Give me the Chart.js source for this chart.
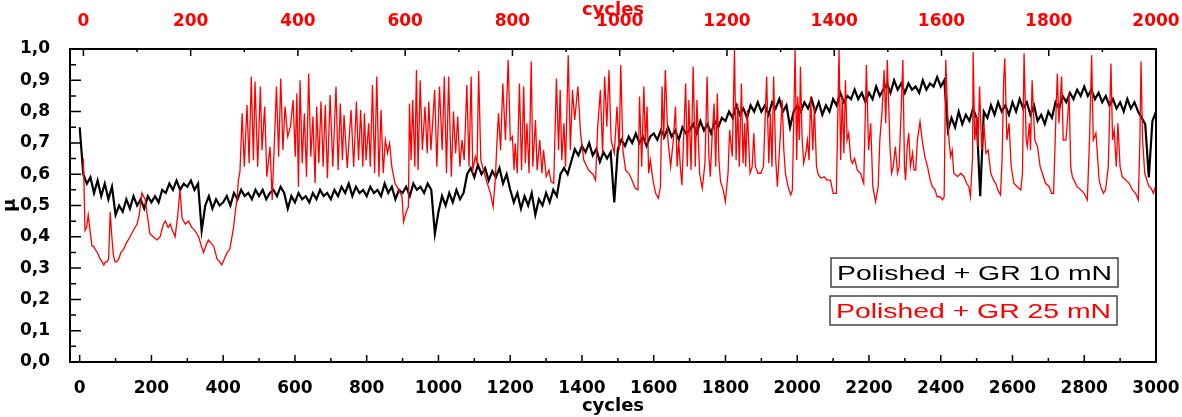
<!DOCTYPE html>
<html>
<head>
<meta charset="utf-8">
<script src="https://cdn.jsdelivr.net/npm/chart.js@4.4.0/dist/chart.umd.min.js"></script>
<style>
  html, body { margin: 0; padding: 0; background: #fff; }
</style>
</head>
<body>
<canvas id="linechart__mu__cycles" width="1182" height="417"></canvas>
<script>
// tick labels
const bottomTicks = [0, 200, 400, 600, 800, 1000, 1200, 1400, 1600, 1800, 2000, 2200, 2400, 2600, 2800, 3000];
const topTicks = [0, 200, 400, 600, 800, 1000, 1200, 1400, 1600, 1800, 2000];
const yTicks = [0, 0.1, 0.2, 0.3, 0.4, 0.5, 0.6, 0.7, 0.8, 0.9, 1.0];

// Polished + GR 10 mN, bottom axis, one value every 10 cycles (0..3000)
const blackStep = 10;
const blackMu = [
  0.75,0.60,0.57,0.59,0.54,0.58,0.53,0.57,0.52,0.56,
  0.47,0.50,0.48,0.52,0.49,0.53,0.50,0.52,0.49,0.53,
  0.51,0.53,0.51,0.55,0.54,0.57,0.55,0.58,0.55,0.57,
  0.56,0.58,0.55,0.57,0.42,0.50,0.53,0.49,0.52,0.50,
  0.51,0.53,0.50,0.54,0.52,0.55,0.53,0.54,0.52,0.55,
  0.53,0.55,0.52,0.54,0.55,0.53,0.56,0.54,0.49,0.53,
  0.51,0.54,0.52,0.53,0.51,0.54,0.52,0.55,0.53,0.54,
  0.52,0.55,0.53,0.56,0.54,0.57,0.53,0.56,0.54,0.55,
  0.53,0.56,0.54,0.55,0.53,0.57,0.54,0.56,0.52,0.55,
  0.54,0.56,0.53,0.57,0.55,0.56,0.54,0.57,0.55,0.41,
  0.48,0.53,0.50,0.54,0.51,0.55,0.52,0.54,0.60,0.62,
  0.59,0.63,0.60,0.62,0.58,0.61,0.59,0.62,0.57,0.60,
  0.55,0.51,0.54,0.49,0.53,0.50,0.54,0.47,0.52,0.50,
  0.54,0.51,0.55,0.53,0.60,0.62,0.60,0.64,0.68,0.66,
  0.69,0.67,0.70,0.66,0.68,0.64,0.67,0.65,0.67,0.51,
  0.68,0.71,0.69,0.72,0.70,0.73,0.70,0.72,0.69,0.72,
  0.73,0.71,0.74,0.72,0.75,0.72,0.74,0.71,0.75,0.73,
  0.74,0.76,0.73,0.77,0.74,0.76,0.73,0.77,0.75,0.78,
  0.77,0.80,0.78,0.82,0.79,0.81,0.78,0.82,0.80,0.83,
  0.80,0.82,0.79,0.83,0.81,0.84,0.80,0.82,0.75,0.80,
  0.82,0.80,0.83,0.81,0.84,0.80,0.83,0.79,0.82,0.80,
  0.84,0.82,0.86,0.83,0.85,0.84,0.87,0.84,0.86,0.83,
  0.86,0.84,0.88,0.85,0.87,0.89,0.86,0.90,0.87,0.89,
  0.86,0.89,0.87,0.88,0.86,0.90,0.87,0.89,0.88,0.91,
  0.88,0.90,0.74,0.78,0.75,0.80,0.76,0.79,0.77,0.81,
  0.78,0.53,0.80,0.78,0.82,0.79,0.83,0.80,0.82,0.79,
  0.83,0.80,0.84,0.81,0.83,0.79,0.82,0.77,0.79,0.76,
  0.80,0.78,0.83,0.81,0.85,0.83,0.86,0.84,0.87,0.85,
  0.88,0.85,0.87,0.84,0.86,0.83,0.85,0.82,0.84,0.81,
  0.83,0.80,0.84,0.81,0.83,0.80,0.78,0.76,0.59,0.77,
  0.80
];

// Polished + GR 25 mN, top axis
const redCycles = [
  0,3,6,9,13,16,19,22,26,31,35,38,41,44,47,50,53,56,59,62,66,70,75,80,87,93,100,104,109,112,115,119,124,130,137,143,149,153,158,162,166,171,176,180,184,190,196,202,208,215,220,224,228,233,238,243,246,249,254,258,263,268,273,277,280,284,287,289,292,
  296,300,305,309,313,317,320,325,330,333,338,342,348,352,360,364,368,372,376,381,386,391,395,398,401,404,408,412,416,420,424,428,432,435,439,443,447,451,455,460,465,471,475,479,483,486,492,
  499,504,509,513,517,521,524,527,532,535,539,543,547,551,555,559,563,567,571,575,581,588,594,597,602,606,608,611,614,618,621,624,628,632,637,641,644,648,655,659,664,669,673,677,681,686,690,694,698,702,706,710,715,719,723,726,731,734,737,741,746,753,759,764,768,771,774,778,782,787,792,796,800,803,805,809,813,817,821,824,827,831,835,838,843,846,851,855,858,863,868,872,877,882,886,889,892,896,899,904,908,912,916,922,927,933,942,950,955,959,964,968,972,976,980,984,
  990,995,999,1002,1006,1011,1017,1023,1029,1034,1037,1041,1045,1048,1051,1054,1057,1062,1067,1072,1076,1079,1082,1085,1090,1095,1100,1104,1107,1110,1113,1116,1123,1126,1129,1133,1137,1141,1144,1149,1154,1159,1163,1166,1169,1172,1176,1179,1182,1185,1188,1193,1197,1202,1205,1210,1214,1217,1220,1223,1227,1230,1233,1235,1238,1243,1247,1250,1253,1258,1263,1268,1274,1278,1281,1284,1287,1291,1294,1299,1303,1306,1309,1314,1319,1322,1327,1330,1332,1335,1337,1340,1343,1347,1350,1353,1356,1360,1363,1367,1370,1375,1381,1387,1393,1398,1404,1409,1412,1415,1418,1421,1424,1427,1431,1434,1438,1443,1449,1455,1460,1464,1468,1472,1477,1482,1485,1489,
  1493,1496,1499,1504,1507,1510,1514,1518,1521,1525,1528,1531,1533,1536,1539,1542,1546,1549,1552,1555,1560,1564,1569,1574,1579,1583,1588,1592,1597,1602,1605,1608,1611,1614,1617,1620,1623,1630,1636,1642,1647,1651,1654,1658,1659,1662,1666,1668,1671,1675,1679,1683,1687,1692,1697,1701,1705,1710,1713,1716,1718,1722,1726,1730,1735,1741,1748,1751,1754,1758,1760,1764,1766,1769,1774,1779,1784,1788,1794,1801,1805,1809,1812,1816,1819,1824,1827,1832,1835,1838,1841,1844,1847,1853,1860,1866,1872,1876,1880,1883,1888,1891,1894,1897,1902,1906,1911,1916,1919,1922,1926,1929,1933,1937,1944,1950,1956,1962,1967,1970,1972,1975,1979,1983,1987,1991,1995,2000
];
const redMu = [
  0.65,0.42,0.43,0.47,0.41,0.37,0.37,0.36,0.35,0.33,0.32,0.31,0.32,0.32,0.33,0.48,0.40,0.34,0.32,0.32,0.33,0.35,0.36,0.38,0.40,0.42,0.44,0.47,0.54,0.53,0.52,0.47,0.41,0.40,0.39,0.40,0.44,0.45,0.43,0.44,0.42,0.40,0.47,0.55,0.46,0.44,0.45,0.43,0.42,0.40,0.37,0.35,0.37,0.39,0.38,0.37,0.35,0.33,0.32,0.31,0.33,0.35,0.36,0.40,0.43,0.49,0.53,0.58,0.61,
  0.795,0.624,0.821,0.635,0.912,0.645,0.896,0.624,0.88,0.677,0.816,0.592,0.688,0.518,0.88,0.656,0.906,0.677,0.816,0.72,0.752,0.837,0.656,0.858,0.56,0.90,0.635,0.795,0.592,0.922,0.656,0.784,0.571,0.816,0.635,0.832,0.624,0.821,0.587,0.853,0.624,0.88,0.613,0.826,0.645,0.789,0.62,
  0.805,0.624,0.832,0.645,0.805,0.624,0.795,0.645,0.763,0.624,0.885,0.603,0.912,0.592,0.805,0.603,0.709,0.667,0.699,0.624,0.571,0.55,0.528,0.448,0.48,0.496,0.826,0.645,0.837,0.624,0.933,0.613,0.90,0.677,0.816,0.667,0.832,0.677,0.869,0.624,0.88,0.677,0.912,0.603,0.912,0.592,0.80,0.667,0.784,0.624,0.709,0.645,0.885,0.624,0.912,0.613,0.656,0.635,0.93,0.645,0.613,0.571,0.539,0.496,0.581,0.699,0.795,0.677,0.89,0.709,0.965,0.709,0.72,0.613,0.699,0.603,0.89,0.613,0.88,0.635,0.763,0.603,0.96,0.624,0.773,0.613,0.709,0.603,0.677,0.592,0.613,0.576,0.571,0.906,0.677,0.869,0.645,0.763,0.624,0.98,0.677,0.869,0.773,0.88,0.731,0.645,0.613,0.60,0.581,0.752,0.869,0.667,0.912,0.752,0.933,0.709,
  0.667,0.816,0.677,0.949,0.677,0.613,0.603,0.581,0.555,0.55,0.848,0.624,0.88,0.699,0.816,0.603,0.645,0.581,0.539,0.523,0.56,0.88,0.709,0.933,0.709,0.624,0.709,0.816,0.624,0.709,0.624,0.565,0.89,0.624,0.837,0.613,0.943,0.624,0.837,0.603,0.555,0.635,0.912,0.667,0.592,0.709,0.826,0.624,0.858,0.645,0.576,0.55,0.512,0.603,0.741,0.656,0.997,0.645,0.826,0.624,0.89,0.635,0.763,0.624,0.805,0.603,0.624,0.731,0.624,0.603,0.603,0.624,0.912,0.635,0.795,0.624,0.912,0.645,0.56,0.709,0.837,0.677,0.603,0.56,0.534,0.55,0.997,0.645,0.848,0.709,0.943,0.72,0.635,0.667,0.709,0.645,0.848,0.677,0.816,0.624,0.60,0.587,0.592,0.581,0.581,0.539,0.539,0.997,0.645,0.848,0.667,0.90,0.709,0.731,0.645,0.635,0.651,0.613,0.603,0.571,0.949,0.677,0.763,0.56,0.512,0.56,0.709,0.795,
  0.933,0.763,0.965,0.688,0.603,0.624,0.688,0.603,0.624,0.816,0.965,0.624,0.581,0.688,0.731,0.624,0.667,0.613,0.613,0.709,0.768,0.709,0.656,0.624,0.581,0.56,0.55,0.528,0.528,0.518,0.528,0.965,0.816,0.709,0.656,0.677,0.603,0.592,0.603,0.592,0.571,0.56,0.528,0.656,0.99,0.709,0.784,0.688,0.88,0.677,0.763,0.667,0.677,0.603,0.581,0.571,0.55,0.534,0.645,0.90,0.97,0.709,0.763,0.624,0.571,0.56,0.55,0.603,0.986,0.709,0.688,0.763,0.677,0.90,0.709,0.688,0.624,0.603,0.571,0.56,0.539,0.539,0.709,0.922,0.763,0.912,0.709,0.709,0.773,0.858,0.624,0.592,0.581,0.56,0.55,0.539,0.518,0.709,0.98,0.709,0.731,0.656,0.581,0.56,0.539,0.55,0.624,0.954,0.709,0.741,0.624,0.763,0.624,0.592,0.581,0.571,0.55,0.539,0.518,0.709,0.96,0.709,0.603,0.581,0.56,0.555,0.539,0.565
];

const blackPoints = blackMu.map((v, i) => ({ x: i * blackStep, y: v }));
const redPoints = redCycles.map((c, i) => ({ x: c, y: redMu[i] }));

const tickFont = { family: 'DejaVu Sans', weight: 'bold', size: 17 };
const titleFont = { family: 'DejaVu Sans', weight: 'bold', size: 18 };
const fmt = v => v.toFixed(1).replace('.', ',');

// no extra room for overhanging tick labels, plot box stays fixed
const noPad = s => { s.paddingLeft = 0; s.paddingRight = 0; s.paddingTop = 0; s.paddingBottom = 0; };

// box, inward tick marks
const frameTicks = {
  id: 'frameTicks',
  afterDatasetsDraw(chart) {
    const { ctx, chartArea: a, scales } = chart;
    ctx.save();
    ctx.strokeStyle = '#000';
    ctx.lineWidth = 2;
    ctx.strokeRect(a.left, a.top, a.right - a.left, a.bottom - a.top);
    ctx.lineWidth = 1.5;
    ctx.beginPath();
    for (let v = 0; v <= 3000; v += 100) {
      const x = scales.x.getPixelForValue(v);
      const len = bottomTicks.includes(v) ? 7 : 4;
      ctx.moveTo(x, a.bottom); ctx.lineTo(x, a.bottom - len);
    }
    for (let v = 0; v <= 2000; v += 100) {
      const x = scales.xTop.getPixelForValue(v);
      const len = topTicks.includes(v) ? 7 : 3;
      ctx.moveTo(x, a.top); ctx.lineTo(x, a.top + len);
    }
    for (let k = 0; k <= 20; k++) {
      const y = scales.y.getPixelForValue(k / 20);
      const len = k % 2 === 0 ? 11 : 6;
      ctx.moveTo(a.left, y); ctx.lineTo(a.left + len, y);
    }
    ctx.stroke();
    ctx.restore();
  }
};

// boxed legend, lower right
const boxLegend = {
  id: 'boxLegend',
  afterDraw(chart) {
    const ctx = chart.ctx;
    const rows = [
      { ds: chart.data.datasets[1], box: [831, 258, 287, 29], tx: 837, ty: 280 },
      { ds: chart.data.datasets[0], box: [830, 296, 287, 29], tx: 836, ty: 318 }
    ];
    ctx.save();
    rows.forEach(r => {
      ctx.fillStyle = '#fff';
      ctx.fillRect(r.box[0], r.box[1], r.box[2], r.box[3]);
      ctx.strokeStyle = '#444';
      ctx.lineWidth = 1.5;
      ctx.strokeRect(r.box[0], r.box[1], r.box[2], r.box[3]);
      ctx.font = '21px "Liberation Sans", Arial, sans-serif';
      const w = ctx.measureText(r.ds.label).width;
      ctx.save();
      ctx.translate(r.tx, r.ty);
      ctx.scale(275 / w, 1);
      ctx.fillStyle = r.ds.borderColor;
      ctx.textBaseline = 'alphabetic';
      ctx.fillText(r.ds.label, 0, 0);
      ctx.restore();
    });
    ctx.restore();
  }
};

let ctx__mu__cycles = document.getElementById('linechart__mu__cycles').getContext('2d');
new Chart(ctx__mu__cycles, {
  type: 'line',
  data: {
    datasets: [{
      label: 'Polished + GR 25 mN',
      data: redPoints,
      xAxisID: 'xTop',
      yAxisID: 'y',
      borderColor: '#ff0000',
      borderWidth: 1.3,
      pointRadius: 0,
      tension: 0
    }, {
      label: 'Polished + GR 10 mN',
      data: blackPoints,
      xAxisID: 'x',
      yAxisID: 'y',
      borderColor: '#000000',
      borderWidth: 2.2,
      pointRadius: 0,
      tension: 0
    }]
  },
  options: {
    responsive: false,
    devicePixelRatio: 1,
    animation: false,
    layout: { padding: { left: 0, right: 26, top: 0, bottom: 0 } },
    plugins: {
      legend: { display: false },
      tooltip: { enabled: false }
    },
    scales: {
      x: {
        type: 'linear',
        position: 'bottom',
        min: -27,
        max: 3000,
        afterBuildTicks: s => { s.ticks = bottomTicks.map(v => ({ value: v })); },
        afterFit: s => { s.height = 55; noPad(s); },
        ticks: { font: tickFont, color: '#000', padding: 8, maxRotation: 0, autoSkip: false, callback: v => String(v) },
        grid: { display: false },
        border: { display: false },
        title: { display: true, text: 'cycles', color: '#000', font: titleFont, padding: 0 }
      },
      xTop: {
        type: 'linear',
        position: 'top',
        min: -25,
        max: 2000,
        afterBuildTicks: s => { s.ticks = topTicks.map(v => ({ value: v })); },
        afterFit: s => { s.height = 49; noPad(s); },
        ticks: { font: tickFont, color: '#ff0000', padding: 9, maxRotation: 0, autoSkip: false, callback: v => String(v) },
        grid: { display: false },
        border: { display: false },
        title: { display: true, text: 'cycles', color: '#ff0000', font: titleFont, padding: 0 }
      },
      y: {
        min: 0,
        max: 1,
        afterBuildTicks: s => { s.ticks = yTicks.map(v => ({ value: v })); },
        afterFit: s => { s.width = 70; noPad(s); },
        ticks: { font: tickFont, color: '#000', padding: 12, callback: v => fmt(v) },
        grid: { display: false },
        border: { display: false },
        title: { display: true, text: 'μ', color: '#000', font: titleFont, padding: 0 }
      }
    }
  },
  plugins: [frameTicks, boxLegend]
});
</script>
</body>
</html>
